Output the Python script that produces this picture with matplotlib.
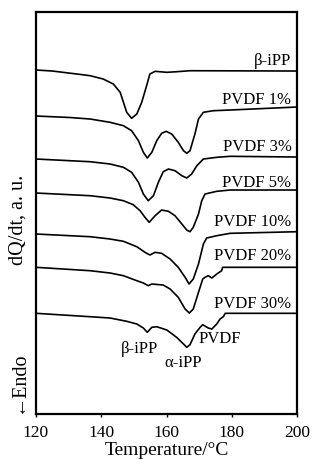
import matplotlib
matplotlib.use('Agg')
import matplotlib.pyplot as plt

plt.rcParams['font.family'] = ['Liberation Serif', 'DejaVu Serif']

# DSC heating curves (arbitrary units, each trace shifted vertically)
t_beta = [120, 125, 130, 135, 136.6, 140.6, 143.7, 145.8, 146.8, 147.8, 149.3, 150.9, 152.4, 153.9, 154.9,
          156.5, 160.1, 163.1, 167.2, 200]
s_beta = [344, 343, 341, 339, 338.3, 335, 330, 321.7, 311.7, 301.7, 295.7, 300, 311.7, 328.3, 340,
          342.7, 341.7, 342.3, 343.3, 343]

t_1 = [120, 130.4, 136.6, 142.7, 146.8, 149.3, 151.4, 152.9, 154.1, 155.5, 157.0, 158.5, 159.9, 161.6,
       163.6, 165.2, 166.2, 167.2, 168.7, 169.8, 171.3, 174.3, 179.5, 200]
s_1 = [298, 296.5, 295, 291.7, 288.3, 283.3, 273.3, 261.7, 256, 261.7, 273.3, 280.7, 282.7, 280,
       271.7, 263.3, 260.7, 263.3, 280, 295, 301.7, 303.3, 304, 307]

t_3 = [120, 136.6, 142.7, 146.8, 149.3, 151.4, 152.9, 154.4, 156.0, 157.5, 159.0, 160.6, 162.6, 164.7,
       166.2, 167.7, 169.3, 171.3, 175.4, 179.5, 200]
s_3 = [255, 252.3, 250, 246.7, 241.7, 231.7, 220, 213.3, 218.3, 231.7, 242.3, 245, 243.3, 238.3,
       236, 240, 248.3, 255, 256.7, 257.7, 257]

t_5 = [120, 136.6, 142.7, 146.8, 149.8, 151.9, 153.4, 154.7, 156.5, 158.5, 160.6, 162.6, 164.7, 166.2,
       167.2, 168.2, 169.8, 170.8, 171.8, 175.4, 179.5, 200]
s_5 = [221, 218.3, 216, 213.3, 209.3, 203.3, 196.7, 191.7, 198.3, 204, 202.7, 198.3, 190, 184,
       182.3, 186.7, 200, 213.3, 220, 222.7, 224, 224]

t_10 = [120, 136.6, 142.7, 146.8, 150.9, 153.4, 154.9, 156.5, 158.5, 161.1, 163.6, 165.7, 166.9, 168.2,
        169.8, 171.3, 172.3, 175.4, 179.5, 200]
s_10 = [180, 177.3, 175, 172.7, 167.3, 161.7, 159, 161.7, 160.7, 155, 146.7, 136.7, 130, 135,
        150, 170, 176, 178.3, 180.7, 182.3]

t_20 = [120, 136.6, 142.7, 146.8, 150.9, 152.9, 154.4, 155.5, 159.0, 161.1, 163.6, 165.7, 167.0, 168.2,
        169.8, 171.1, 171.8, 172.8, 173.9, 175.4, 176.9, 177.2, 200]
s_20 = [146.7, 143.3, 141, 138.3, 133.3, 131, 128.3, 130, 129, 125, 116.7, 105, 101, 105,
        121.7, 135, 136.7, 138.3, 136, 140, 143.3, 146.7, 146.7]

t_30 = [120, 136.6, 142.7, 147.8, 150.9, 152.9, 154.1, 155.5, 157.0, 160.1, 163.1, 165.2, 166.2, 167.2,
        168.7, 170.3, 171.1, 172.8, 173.9, 175.4, 176.4, 177.4, 178, 200]
s_30 = [100.7, 97.3, 96, 92.7, 90, 86, 81.7, 86.7, 87.3, 84, 76.7, 70, 66.7, 69.3,
        80, 86.7, 89.3, 86, 85, 90, 95, 97.3, 100.7, 100.7]

curves = [(t_beta, s_beta), (t_1, s_1), (t_3, s_3), (t_5, s_5), (t_10, s_10), (t_20, s_20), (t_30, s_30)]
names = ['β-iPP', 'PVDF 1%', 'PVDF 3%', 'PVDF 5%', 'PVDF 10%', 'PVDF 20%', 'PVDF 30%']
name_y = [354, 315, 268, 231.7, 193.3, 159, 111]

# peak assignments on the 30% trace
peak_names = ['β-iPP', 'α-iPP', 'PVDF']
peak_t = [151.7, 165.2, 176.4]
peak_y = [65.7, 51.7, 75.7]

fig = plt.figure(figsize=(3.12, 4.6), dpi=100)
ax = fig.add_axes([0.1154, 0.0978, 0.8366, 0.8739])

for (t, s) in curves:
    ax.plot(t, s, color='black', lw=1.2)

for name, y in zip(names, name_y):
    ax.text(198.3, y, name, ha='right', va='center', fontsize=12)

for name, t, y in zip(peak_names, peak_t, peak_y):
    ax.text(t, y, name, ha='center', va='center', fontsize=12)

ax.set_xlim(120, 200)
ax.set_ylim(0, 402)
ax.set_xticks([120, 140, 160, 180, 200])
ax.set_yticks([])
ax.tick_params(axis='x', direction='out', length=2.5, width=1, labelsize=12.5, pad=5)
for sp in ax.spines.values():
    sp.set_linewidth(1.6)

ax.set_xlabel('Temperature/°C', fontsize=14, labelpad=0.5)
ax.text(-0.069, 0.485, 'dQ/dt, a. u.', transform=ax.transAxes, rotation=90,
        ha='center', va='center', fontsize=14.5)
ax.text(-0.069, 0.083, '←Endo', transform=ax.transAxes, rotation=90,
        ha='center', va='center', fontsize=14.5)

fig.savefig('out.png', dpi=100)
